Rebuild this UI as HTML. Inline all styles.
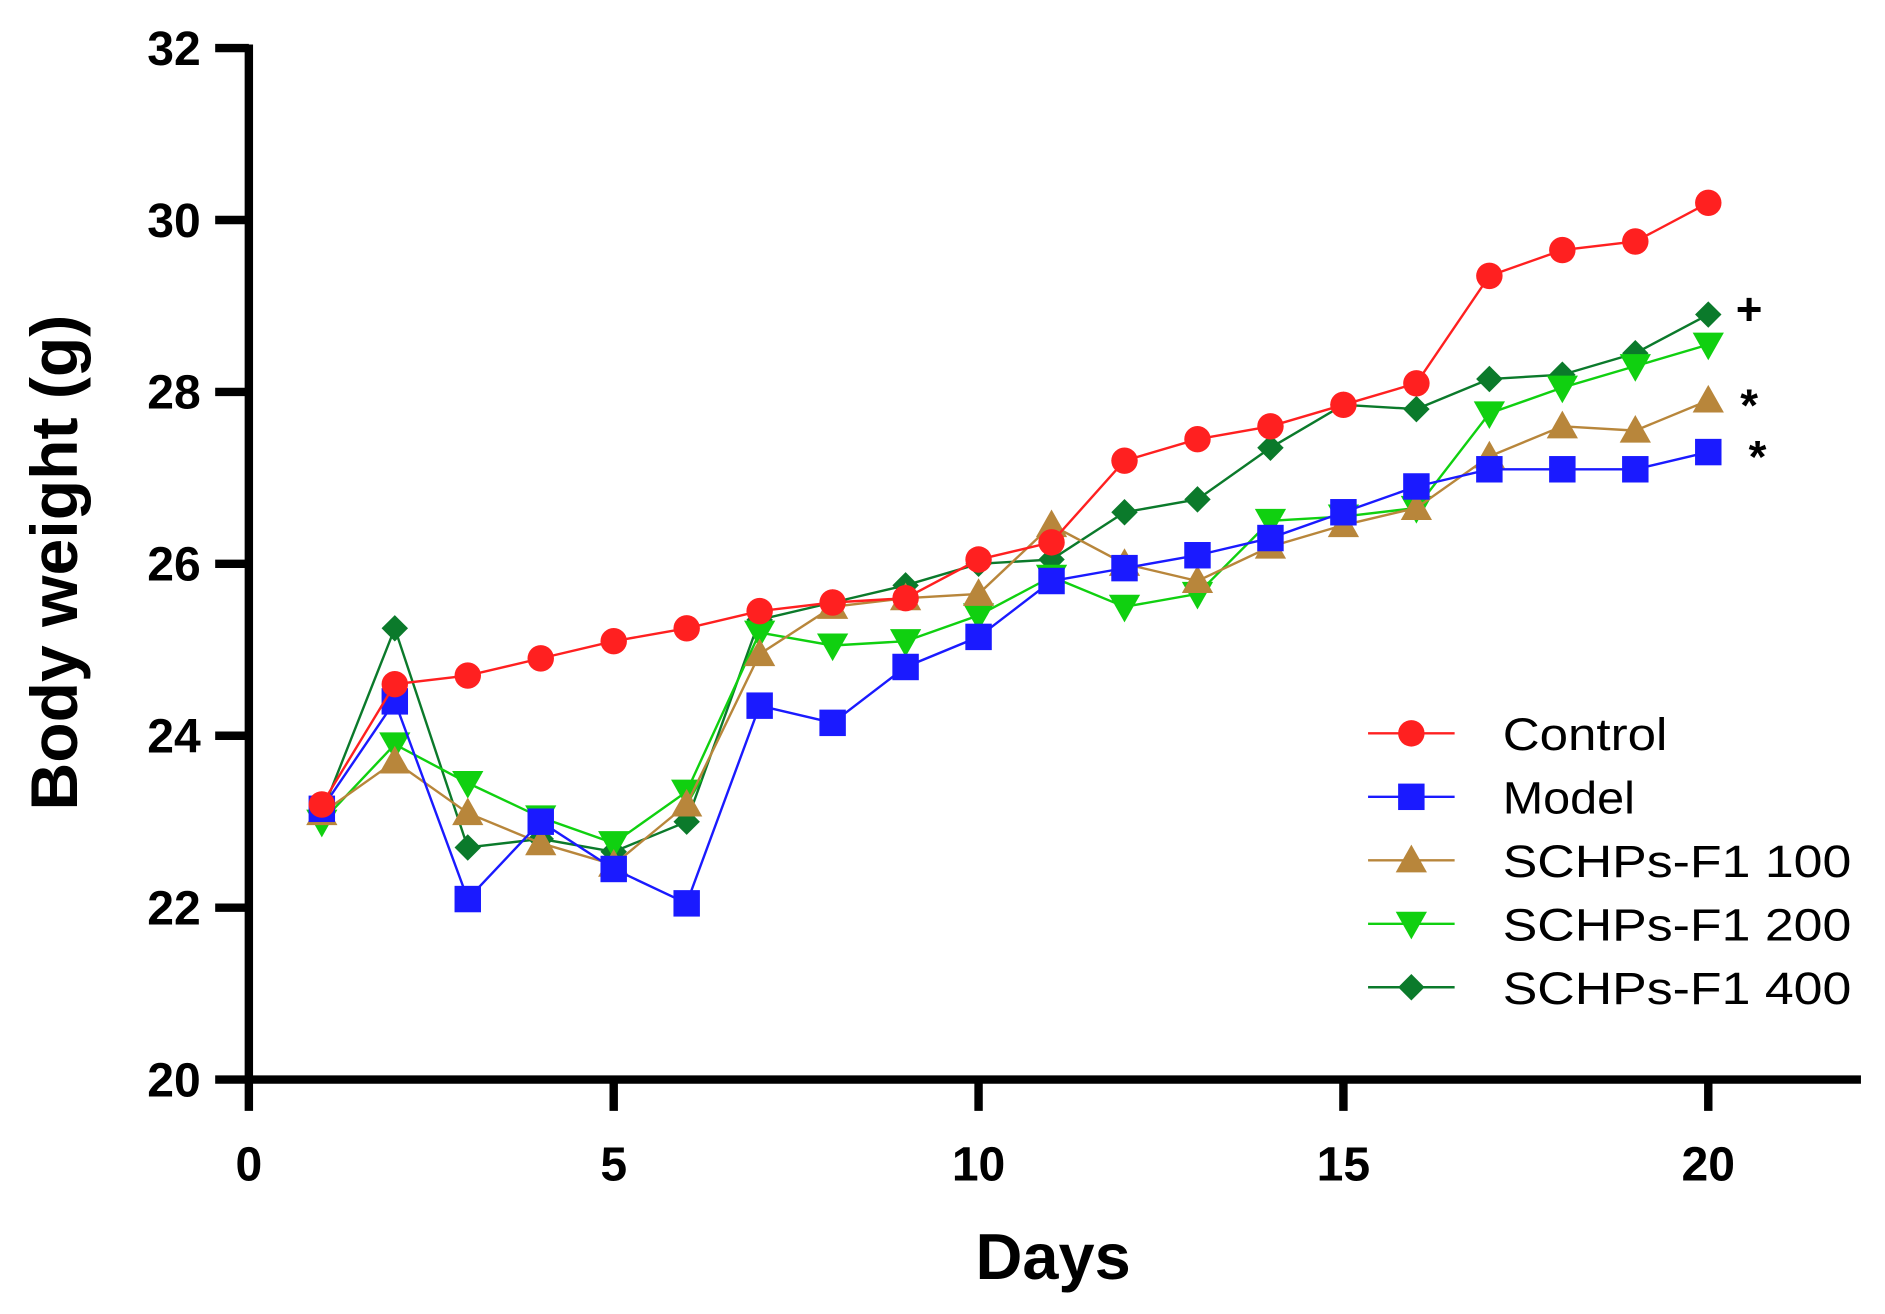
<!DOCTYPE html>
<html><head><meta charset="utf-8"><style>
html,body{margin:0;padding:0;background:#fff}
svg{display:block}
text{font-family:"Liberation Sans",Arial,sans-serif}
</style></head><body>
<svg id="chart" width="1885" height="1314" viewBox="0 0 1568 1093" preserveAspectRatio="none" xmlns="http://www.w3.org/2000/svg">
<g id="axes"></g>
<g id="series"></g>
<g id="legend"></g>
<text transform="translate(64,468) rotate(-90)" text-anchor="middle" font-size="55" font-weight="bold">Body weight (g)</text>
<text x="876" y="1064" text-anchor="middle" font-size="54" font-weight="bold">Days</text>
<text x="1455" y="270" text-anchor="middle" font-size="38" font-weight="bold">+</text>
<text x="1455" y="350" text-anchor="middle" font-size="38" font-weight="bold">*</text>
<text x="1462" y="393" text-anchor="middle" font-size="38" font-weight="bold">*</text>
</svg>
<script>
const days=[1,2,3,4,5,6,7,8,9,10,11,12,13,14,15,16,17,18,19,20];
const control=[23.2,24.6,24.7,24.9,25.1,25.25,25.45,25.55,25.6,26.05,26.25,27.2,27.45,27.6,27.85,28.1,29.35,29.65,29.75,30.2];
const model=[23.15,24.4,22.1,23.0,22.45,22.05,24.35,24.15,24.8,25.15,25.8,25.95,26.1,26.3,26.6,26.9,27.1,27.1,27.1,27.3];
const f100=[23.1,23.7,23.1,22.75,22.5,23.2,24.95,25.5,25.6,25.65,26.45,26.0,25.8,26.2,26.45,26.65,27.25,27.6,27.55,27.9];
const f200=[23.0,23.9,23.45,23.05,22.75,23.35,25.2,25.05,25.1,25.4,25.85,25.5,25.65,26.5,26.55,26.65,27.75,28.05,28.3,28.55];
const f400=[23.1,25.25,22.7,22.8,22.65,23.0,25.35,25.55,25.75,26.0,26.05,26.6,26.75,27.35,27.85,27.8,28.15,28.2,28.45,28.9];
const seriesNames=["Control","Model","SCHPs-F1 100","SCHPs-F1 200","SCHPs-F1 400"];
const yTicks=[20,22,24,26,28,30,32];
const xTicks=[0,5,10,15,20];
const NS="http://www.w3.org/2000/svg";
const X0=207,X1=1421,Y0=898,Y1=40;
const xs=d=>X0+d*(X1-X0)/20;
const ys=v=>Y0-(v-20)*(Y0-Y1)/12;
function mk(tag,attrs,parent){const e=document.createElementNS(NS,tag);for(const k in attrs)e.setAttribute(k,attrs[k]);parent.appendChild(e);return e;}
const axes=document.getElementById('axes');
let l=mk('line',{x1:X0,y1:Y1-3,x2:X0,y2:Y0+3,stroke:'#000','stroke-width':7},axes);


l=mk('line',{x1:X0-3,y1:Y0,x2:1548,y2:Y0,stroke:'#000','stroke-width':7},axes);


yTicks.forEach(v=>{
 const t=mk('line',{x1:X0-28,y1:ys(v),x2:X0,y2:ys(v),stroke:'#000','stroke-width':7},axes);
 
 
 const tx=mk('text',{x:X0-40,y:ys(v)+14,'text-anchor':'end','font-size':40,'font-weight':'bold'},axes);
 tx.textContent=v;
 
 
});
xTicks.forEach(v=>{
 const t=mk('line',{x1:xs(v),y1:Y0,x2:xs(v),y2:Y0+26,stroke:'#000','stroke-width':7},axes);
 
 
 const tx=mk('text',{x:xs(v),y:Y0+84,'text-anchor':'middle','font-size':40,'font-weight':'bold'},axes);
 tx.textContent=v;
 
 
});
const colors=['#ff2020','#1a1aff','#b8863b','#10d010','#0b7a2b'];
const shapes=['circle','square','up','down','diamond'];
function marker(shape,x,y,c,p){
 if(shape==='circle')return mk('circle',{cx:x,cy:y,r:11,fill:c},p);
 if(shape==='square')return mk('rect',{x:x-11,y:y-11,width:22,height:22,fill:c},p);
 if(shape==='up')return mk('polygon',{points:`${x},${y-13} ${x+13},${y+10} ${x-13},${y+10}`,fill:c},p);
 if(shape==='down')return mk('polygon',{points:`${x},${y+13} ${x+13},${y-10} ${x-13},${y-10}`,fill:c},p);
 return mk('polygon',{points:`${x},${y-11} ${x+11},${y} ${x},${y+11} ${x-11},${y}`,fill:c},p);
}
const all=[control,model,f100,f200,f400];
const sg=document.getElementById('series');
const order=[4,3,2,1,0];
order.forEach(i=>{
 const g=mk('g',{},sg);
 
 
 const pts=all[i].map((v,j)=>xs(days[j])+','+ys(v)).join(' ');
 const pl=mk('polyline',{points:pts,fill:'none',stroke:colors[i],'stroke-width':2},g);
 
 
 all[i].forEach((v,j)=>{
  const m=marker(shapes[i],xs(days[j]),ys(v),colors[i],g);
  
  
 });
});
const lg=document.getElementById('legend');
seriesNames.forEach((n,i)=>{
 const y=610+i*52.8;
 const g=mk('g',{},lg);
 
 
 mk('line',{x1:1138,y1:y,x2:1210,y2:y,stroke:colors[i],'stroke-width':2},g);
 marker(shapes[i],1174,y,colors[i],g);
 const t=mk('text',{x:1250,y:y+14,'font-size':38,textLength:n.length>8?290:(n==='Control'?137:110),lengthAdjust:'spacingAndGlyphs'},g);
 t.textContent=n;
});
</script>
</body></html>
